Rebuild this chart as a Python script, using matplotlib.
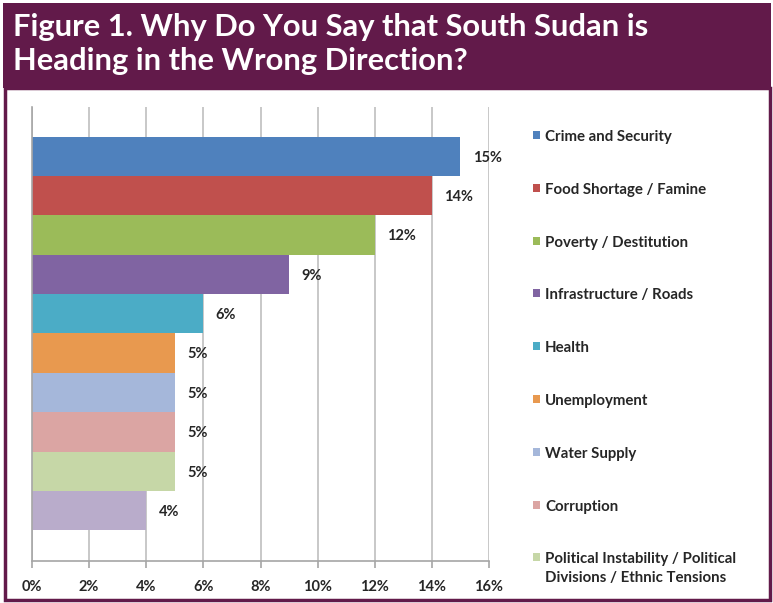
import matplotlib.pyplot as plt
from matplotlib.patches import Rectangle
from matplotlib.ticker import PercentFormatter

# reasons given, top to bottom, with share of respondents (%)
reasons = ["Crime and Security", "Food Shortage / Famine", "Poverty / Destitution",
           "Infrastructure / Roads", "Health", "Unemployment", "Water Supply",
           "Corruption", "Political Instability / Political\nDivisions / Ethnic Tensions",
           "Other"]
values = [15, 14, 12, 9, 6, 5, 5, 5, 5, 4]
colors = ["#4F81BD", "#C0504D", "#9BBB59", "#8064A2", "#4BACC6", "#E8994F",
          "#A5B7DA", "#DBA5A3", "#C6D7A7", "#B9ACCB"]
xticks = [0, 2, 4, 6, 8, 10, 12, 14, 16]

purple = "#621A4A"
font = "Lato"
txt = "#262626"

W, H = 773, 603
fig = plt.figure(figsize=(W / 100, H / 100), dpi=100)
fig.patch.set_facecolor("white")

# title band and frame
fig.patches.append(Rectangle((3 / W, 1 - 88 / H), 768 / W, 85 / H, transform=fig.transFigure,
                             facecolor=purple, edgecolor="none", zorder=0))
fig.patches.append(Rectangle((4.5 / W, 1 - 600 / H), 765 / W, 512 / H, transform=fig.transFigure,
                             facecolor="none", edgecolor=purple, linewidth=2.5, zorder=0))
fig.text(13 / W, 1 - 27 / H, "Figure 1. Why Do You Say that South Sudan is",
         color="white", fontsize=22.2, fontweight="bold", family=font, va="center")
fig.text(13 / W, 1 - 61 / H, "Heading in the Wrong Direction?",
         color="white", fontsize=22.2, fontweight="bold", family=font, va="center")

ax = fig.add_axes([32 / W, 1 - 561 / H, 457 / W, 454 / H])
ypos = list(range(len(values)))
bars = ax.barh(ypos, values, height=1.0, color=colors, zorder=2)

ax.set_xlim(0, 16)
ax.set_ylim(10.28, -1.25)
ax.set_xticks(xticks)
ax.xaxis.set_major_formatter(PercentFormatter(decimals=0))
ax.set_yticks([])
ax.xaxis.grid(True, color="#BFBFBF", linewidth=1.2)
ax.set_axisbelow(True)
for side in ["top", "right"]:
    ax.spines[side].set_visible(False)
for side in ["left", "bottom"]:
    ax.spines[side].set_color("#A6A6A6")
    ax.spines[side].set_linewidth(1.2)
ax.tick_params(axis="x", length=5, color="#A6A6A6", width=1.2, pad=9)
for lab in ax.get_xticklabels():
    lab.set_fontfamily(font)
    lab.set_fontweight("bold")
    lab.set_fontsize(10.5)
    lab.set_color(txt)

for b, v in zip(bars, values):
    ax.annotate(f"{v}%", (b.get_width(), b.get_y() + b.get_height() / 2),
                xytext=(9, -1), textcoords="offset points", va="center", ha="left",
                fontsize=10.5, fontweight="bold", family=font, color=txt, zorder=3)

# legend (first nine reasons)
for i in range(9):
    yc = 135 + i * 52.8
    fig.patches.append(Rectangle((533 / W, 1 - (yc + 4) / H), 7 / W, 8 / H,
                                 transform=fig.transFigure, facecolor=colors[i],
                                 edgecolor="none"))
    fig.text(545 / W, 1 - (yc - 5) / H, reasons[i], fontsize=10.8, fontweight="bold",
             family=font, color=txt, va="top", linespacing=1.45)

fig.savefig("out.png", dpi=100)
